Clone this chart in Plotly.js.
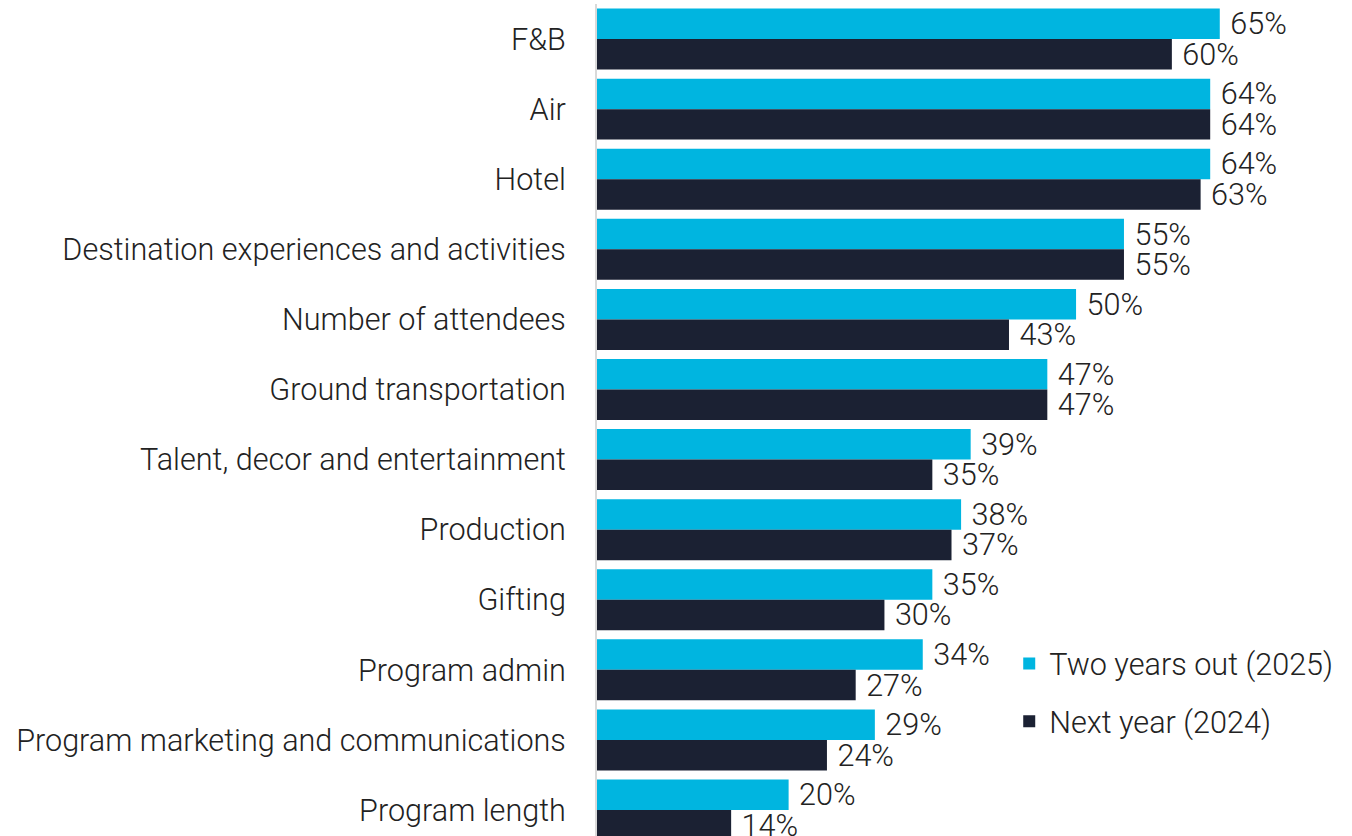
<!DOCTYPE html>
<html>
<head>
<meta charset="utf-8">
<script src="https://cdn.plot.ly/plotly-3.0.1.min.js"></script>
<style>html,body{margin:0;padding:0;background:#fff;}#chart{width:1352px;height:836px;}</style>
</head>
<body>
<div id="chart"></div>
<script>
const categories = ["F&B","Air","Hotel","Destination experiences and activities","Number of attendees","Ground transportation","Talent, decor and entertainment","Production","Gifting","Program admin","Program marketing and communications","Program length"];
const twoYearsOut = [65,64,64,55,50,47,39,38,35,34,29,20];
const nextYear = [60,64,63,55,43,47,35,37,30,27,24,14];
const seriesNames = ["Two years out (2025)","Next year (2024)"];

const font = {family:"Roboto, 'Open Sans', sans-serif", size:30.6, color:"#222222", weight:300};
const labelFont = {family:"Roboto, 'Open Sans', sans-serif", size:30.6, color:"#222222", weight:300};

const traces = [
  {type:"bar", orientation:"h", name:seriesNames[0], y:categories, x:twoYearsOut, legendgroup:"a",
   marker:{color:"#00B5E0"}, text:twoYearsOut.map(v=>"\u00a0"+v+"%"), textposition:"outside", cliponaxis:false,
   constraintext:"none", textfont:labelFont, hoverinfo:"skip"},
  {type:"bar", orientation:"h", name:seriesNames[1], y:categories, x:nextYear, legendgroup:"b",
   marker:{color:"#1B2133"}, text:nextYear.map(v=>"\u00a0"+v+"%"), textposition:"outside", cliponaxis:false,
   constraintext:"none", textfont:labelFont, hoverinfo:"skip"}
];

const layout = {
  width:1352, height:836,
  margin:{l:597, r:0, t:4, b:0},
  barmode:"group", bargap:0.13, bargroupgap:0,
  paper_bgcolor:"#fff", plot_bgcolor:"#fff",
  font:font,
  showlegend:true,
  legend:{x:0.546, y:0.239, xanchor:"left", yanchor:"top", font:font, tracegroupgap:15, bgcolor:"rgba(0,0,0,0)", traceorder:"grouped"},
  xaxis:{range:[0,78.8], showgrid:false, zeroline:false, showticklabels:false, showline:false, fixedrange:true},
  yaxis:{type:"category", categoryorder:"array", categoryarray:categories, range:[11.371,-0.5],
    showgrid:false, zeroline:false, showline:true, linecolor:"#D9D9D9", linewidth:2,
    ticks:"outside", ticklen:23, tickcolor:"rgba(0,0,0,0)", tickfont:font, automargin:false}
};

Plotly.newPlot("chart", traces, layout, {staticPlot:true, displayModeBar:false});
</script>
</body>
</html>
